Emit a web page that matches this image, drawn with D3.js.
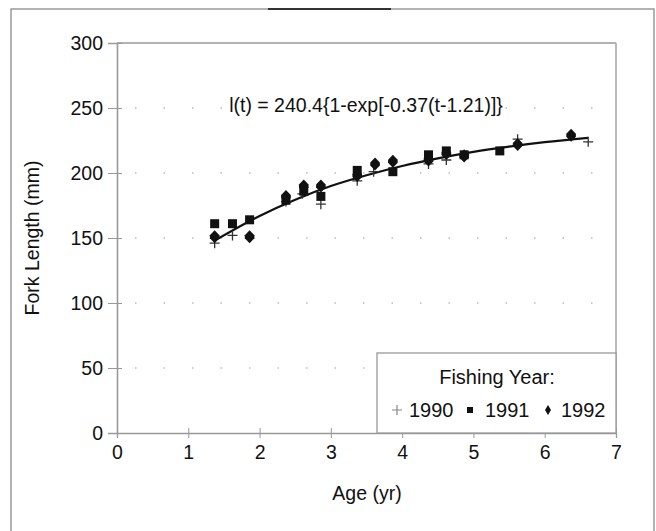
<!DOCTYPE html>
<html>
<head>
<meta charset="utf-8">
<script src="https://cdn.jsdelivr.net/npm/d3@7"></script>
<style>
  html, body { margin: 0; padding: 0; background: #fff; }
  svg { display: block; font-family: "Liberation Sans", Arial, sans-serif; }
</style>
</head>
<body>
<svg id="chart" width="656" height="531"></svg>
<script>
// ---- data ----
const xTicks = [0, 1, 2, 3, 4, 5, 6, 7];
const yTicks = [0, 50, 100, 150, 200, 250, 300];
const gridValues = [50, 100, 150, 200, 250];

const seriesNames = ["1990", "1991", "1992"];

const ages1990 = [1.37, 1.62, 2.37, 2.6, 2.86, 3.37, 3.6, 4.37, 4.62, 4.87, 5.62, 6.61];
const len1990  = [146, 152, 178, 184, 176, 194, 201, 207, 210, 214, 226, 224];

const ages1991 = [1.37, 1.62, 1.86, 2.37, 2.62, 2.86, 3.37, 3.87, 4.37, 4.62, 4.87, 5.37];
const len1991  = [161, 161, 164, 179, 186, 182, 202, 201, 214, 217, 214, 217];

const ages1992 = [1.37, 1.86, 2.37, 2.62, 2.86, 3.37, 3.62, 3.87, 4.37, 4.62, 4.87, 5.62, 6.37];
const len1992  = [151, 151, 182, 190, 190, 198, 207, 209, 210, 215, 213, 222, 229];

// fitted growth curve
const curveAges = [1.37, 2.0, 2.5, 3.0, 3.5, 4.0, 4.5, 5.0, 5.5, 6.0, 6.61];
const curveLens = [148, 167, 179.5, 190, 198.3, 205.4, 211.3, 216.3, 220.3, 223.7, 227];

const equationText = "l(t) = 240.4{1-exp[-0.37(t-1.21)]}";
const legendTitle = "Fishing Year:";
const xLabel = "Age (yr)";
const yLabel = "Fork Length (mm)";

// ---- drawing ----
const FS = 19.5;
const svg = d3.select("#chart");
const x = d3.scaleLinear().domain([0, 7]).range([117, 616]);
const y = d3.scaleLinear().domain([0, 300]).range([433, 43]);

// outer frame
svg.append("rect").attr("x", 11).attr("y", 9).attr("width", 643).attr("height", 540)
  .attr("fill", "none").attr("stroke", "#8a8a8a").attr("stroke-width", 1.3);
svg.append("line").attr("x1", 268).attr("x2", 391).attr("y1", 9).attr("y2", 9)
  .attr("stroke", "#333").attr("stroke-width", 2);

// sparse dotted gridlines
svg.append("g").selectAll("line").data(gridValues).join("line")
  .attr("x1", x(0) + 18).attr("x2", x(7) - 4)
  .attr("y1", d => y(d)).attr("y2", d => y(d))
  .attr("stroke", "#999").attr("stroke-width", 1.2)
  .attr("stroke-dasharray", "1.5,27");

// plot frame (top & right)
svg.append("line").attr("x1", x(0)).attr("x2", x(7)).attr("y1", y(300)).attr("y2", y(300))
  .attr("stroke", "#999").attr("stroke-width", 1.4);
svg.append("line").attr("x1", x(7)).attr("x2", x(7)).attr("y1", y(300)).attr("y2", y(0))
  .attr("stroke", "#aaa").attr("stroke-width", 1.6);

// axes
const yAxis = d3.axisLeft(y).tickValues(yTicks).tickSize(9).tickPadding(5);
const gy = svg.append("g").attr("transform", `translate(${x(0)},0)`).call(yAxis);
gy.select(".domain").attr("stroke", "#999").attr("stroke-width", 1.6);
gy.selectAll(".tick line").attr("stroke", "#999").attr("x2", 5).attr("x1", -9);
gy.selectAll(".tick text").attr("font-size", FS).attr("fill", "#111")
  .attr("font-family", "Liberation Sans, Arial, sans-serif");

const xAxis = d3.axisBottom(x).tickValues(xTicks).tickSize(5).tickPadding(7).tickFormat(d3.format("d"));
const gx = svg.append("g").attr("transform", `translate(0,${y(0)})`).call(xAxis);
gx.select(".domain").attr("stroke", "#999").attr("stroke-width", 1.3);
gx.selectAll(".tick line").attr("stroke", "#999").attr("y1", -5).attr("y2", 5);
gx.selectAll(".tick text").attr("font-size", FS).attr("fill", "#111")
  .attr("font-family", "Liberation Sans, Arial, sans-serif");

// axis labels
svg.append("text").attr("x", 367).attr("y", 500)
  .attr("text-anchor", "middle").attr("font-size", FS).attr("fill", "#111").text(xLabel);
svg.append("text").attr("transform", `translate(39,${(y(0) + y(300)) / 2}) rotate(-90)`)
  .attr("text-anchor", "middle").attr("font-size", FS).attr("fill", "#111").text(yLabel);

// equation
svg.append("text").attr("x", 366).attr("y", 112).attr("text-anchor", "middle")
  .attr("font-size", FS).attr("fill", "#111").text(equationText);

// growth curve
const curveData = curveAges.map((a, i) => [a, curveLens[i]]);
svg.append("path").datum(curveData)
  .attr("d", d3.line().x(d => x(d[0])).y(d => y(d[1])).curve(d3.curveMonotoneX))
  .attr("fill", "none").attr("stroke", "#111").attr("stroke-width", 2.2);

// markers
const plusPath = "M-5,0H5M0,-5V5";
const g90 = svg.append("g");
g90.selectAll("path").data(ages1990.map((a, i) => [a, len1990[i]])).join("path")
  .attr("transform", d => `translate(${x(d[0])},${y(d[1])})`)
  .attr("d", plusPath).attr("stroke", "#333").attr("stroke-width", 1.3).attr("fill", "none");

const g91 = svg.append("g");
g91.selectAll("rect").data(ages1991.map((a, i) => [a, len1991[i]])).join("rect")
  .attr("x", d => x(d[0]) - 4.5).attr("y", d => y(d[1]) - 4.5)
  .attr("width", 9).attr("height", 9).attr("fill", "#111");

const diamondPath = "M0,-6.5L4.8,-1.5L4.8,1.5L0,6.5L-4.8,1.5L-4.8,-1.5Z";
const g92 = svg.append("g");
g92.selectAll("path").data(ages1992.map((a, i) => [a, len1992[i]])).join("path")
  .attr("transform", d => `translate(${x(d[0])},${y(d[1])})`)
  .attr("d", diamondPath).attr("fill", "#111");

// legend
const lg = svg.append("g");
lg.append("rect").attr("x", 377).attr("y", 353).attr("width", 239).attr("height", 80)
  .attr("fill", "#fff").attr("stroke", "#999").attr("stroke-width", 1.3);
lg.append("text").attr("x", 497).attr("y", 384).attr("text-anchor", "middle")
  .attr("font-size", 20).attr("fill", "#111").text(legendTitle);
const legItems = [
  { name: seriesNames[0], mx: 397, tx: 409 },
  { name: seriesNames[1], mx: 470, tx: 485 },
  { name: seriesNames[2], mx: 548, tx: 561 }
];
legItems.forEach((it, i) => {
  const yy = 410;
  if (i === 0) {
    lg.append("path").attr("transform", `translate(${it.mx},${yy})`).attr("d", plusPath)
      .attr("stroke", "#888").attr("stroke-width", 1.2);
  } else if (i === 1) {
    lg.append("rect").attr("x", it.mx - 3).attr("y", yy - 3).attr("width", 6).attr("height", 6).attr("fill", "#111");
  } else {
    lg.append("path").attr("transform", `translate(${it.mx},${yy})`).attr("d", "M0,-5L3,0L0,5L-3,0Z").attr("fill", "#111");
  }
  lg.append("text").attr("x", it.tx).attr("y", yy + 7).attr("font-size", 20).attr("fill", "#111").text(it.name);
});
</script>
</body>
</html>
